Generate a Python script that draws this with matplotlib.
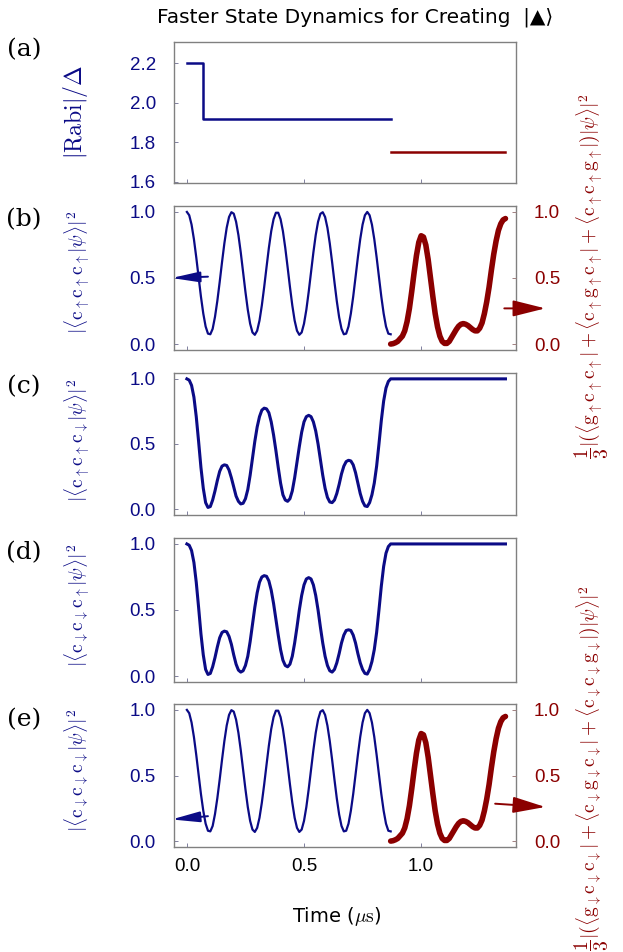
import numpy as np
import matplotlib
matplotlib.use("Agg")
import matplotlib.pyplot as plt

plt.rcParams['mathtext.fontset'] = 'cm'
plt.rcParams['font.family'] = ['Liberation Sans', 'DejaVu Sans']

NAVY = '#0b0b86'
DARKRED = '#8b0000'
SPINE = '#808080'

# ---------------- data ----------------
# panel (a): |Rabi|/Delta step profile
rabi_t_blue = [0.0, 0.07, 0.87]
rabi_blue = [2.2, 1.92, 1.92]
rabi_t_red = [0.87, 1.36]
rabi_red = [1.75, 1.75]

# sample times of the first stage (0 .. 0.87 us)
t_stage1 = np.round(np.arange(0, 88) * 0.01, 2)
# sample times of the second stage (0.87 .. 1.36 us)
t_stage2 = np.round(0.87 + np.arange(0, 50) * 0.01, 2)

# panel (b): |<c_up c_up c_up|psi>|^2
pop_uuu = [1.000, 0.975, 0.904, 0.794, 0.657, 0.507, 0.359, 0.231, 0.133, 0.079,
           0.074, 0.115, 0.206, 0.327, 0.469, 0.620, 0.762, 0.881, 0.962, 0.998,
           0.987, 0.926, 0.825, 0.693, 0.544, 0.395, 0.260, 0.154, 0.088, 0.070,
           0.101, 0.178, 0.293, 0.432, 0.582, 0.728, 0.854, 0.945, 0.994, 0.994,
           0.945, 0.854, 0.728, 0.582, 0.432, 0.293, 0.178, 0.101, 0.070, 0.088,
           0.154, 0.260, 0.395, 0.544, 0.693, 0.825, 0.926, 0.986, 0.998, 0.962,
           0.880, 0.762, 0.620, 0.469, 0.325, 0.203, 0.116, 0.074, 0.079, 0.133,
           0.231, 0.359, 0.507, 0.657, 0.794, 0.904, 0.975, 1.000, 0.975, 0.904,
           0.794, 0.657, 0.507, 0.359, 0.231, 0.133, 0.079, 0.074]
# right axis of (b): 1/3 |(<g c c| + <c g c| + <c c g|)|psi>|^2
pop_g_up = [0.00, 0.003, 0.01, 0.02, 0.04, 0.06, 0.10, 0.17, 0.27, 0.40,
            0.54, 0.67, 0.77, 0.82, 0.81, 0.75, 0.64, 0.50, 0.36, 0.23,
            0.13, 0.06, 0.02, 0.005, 0.005, 0.02, 0.05, 0.08, 0.11, 0.135,
            0.15, 0.155, 0.15, 0.14, 0.125, 0.11, 0.10, 0.10, 0.12, 0.16,
            0.23, 0.32, 0.43, 0.56, 0.68, 0.78, 0.86, 0.91, 0.94, 0.95]

# panel (c): |<c_up c_up c_down|psi>|^2 (stays at 1 after 0.87)
pop_uud = [1.00, 0.99, 0.95, 0.86, 0.71, 0.52, 0.32, 0.16, 0.05, 0.013,
           0.02, 0.07, 0.14, 0.22, 0.29, 0.33, 0.34, 0.335, 0.30, 0.24,
           0.17, 0.10, 0.06, 0.04, 0.045, 0.08, 0.15, 0.26, 0.39, 0.52,
           0.63, 0.71, 0.76, 0.775, 0.77, 0.74, 0.67, 0.57, 0.45, 0.32,
           0.20, 0.11, 0.07, 0.06, 0.08, 0.14, 0.24, 0.36, 0.48, 0.59,
           0.67, 0.71, 0.72, 0.71, 0.67, 0.60, 0.50, 0.38, 0.26, 0.16,
           0.09, 0.055, 0.05, 0.07, 0.12, 0.19, 0.27, 0.33, 0.365, 0.375,
           0.37, 0.34, 0.28, 0.20, 0.12, 0.06, 0.025, 0.02, 0.05, 0.11,
           0.20, 0.33, 0.50, 0.68, 0.83, 0.93, 0.98, 1.00]
# panel (d): |<c_down c_down c_up|psi>|^2
pop_ddu = [1.00, 0.99, 0.95, 0.86, 0.71, 0.52, 0.32, 0.16, 0.05, 0.012,
           0.02, 0.07, 0.14, 0.22, 0.29, 0.33, 0.34, 0.335, 0.30, 0.24,
           0.16, 0.09, 0.045, 0.03, 0.04, 0.08, 0.15, 0.26, 0.39, 0.52,
           0.63, 0.71, 0.75, 0.76, 0.755, 0.72, 0.65, 0.55, 0.43, 0.31,
           0.20, 0.12, 0.08, 0.07, 0.09, 0.15, 0.25, 0.37, 0.50, 0.61,
           0.69, 0.735, 0.745, 0.735, 0.69, 0.61, 0.50, 0.37, 0.25, 0.15,
           0.08, 0.04, 0.03, 0.05, 0.10, 0.17, 0.25, 0.31, 0.345, 0.35,
           0.345, 0.31, 0.25, 0.17, 0.10, 0.05, 0.02, 0.015, 0.05, 0.11,
           0.20, 0.33, 0.50, 0.68, 0.83, 0.93, 0.98, 1.00]
t_end = 1.36
final_value = 1.00

# panel (e): |<c_down c_down c_down|psi>|^2 (same as (b) by eye)
pop_ddd = list(pop_uuu)
pop_g_down = list(pop_g_up)

# arrow anchors (data units): (tail_t, tail_y, head_t, head_y)
arrow_b_left = (0.09, 0.51, -0.065, 0.50)
arrow_b_right = (1.355, 0.27, 1.53, 0.27)
arrow_e_left = (0.09, 0.19, -0.065, 0.165)
arrow_e_right = (1.316, 0.285, 1.53, 0.26)

xticks = [0.0, 0.5, 1.0]
pop_ticks = [0.0, 0.5, 1.0]
rabi_ticks = [1.6, 1.8, 2.0, 2.2]

# ---------------- figure ----------------
W, H = 623, 952
fig = plt.figure(figsize=(W / 100, H / 100), dpi=100)

def add_axes(top_px, bot_px, left_px=174, right_px=516):
    return fig.add_axes([left_px / W, 1 - bot_px / H,
                         (right_px - left_px) / W, (bot_px - top_px) / H])

XLIM = (-0.055, 1.405)
POPLIM = (-0.045, 1.045)

def style(ax, labelcolor=NAVY, show_x=False):
    for sp in ax.spines.values():
        sp.set_color(SPINE)
        sp.set_linewidth(1.0)
    ax.set_xlim(*XLIM)
    ax.set_xticks(xticks)
    ax.tick_params(axis='both', direction='in', length=3, width=0.7,
                   color='#8080a0', labelsize=13.5)
    ax.tick_params(axis='y', labelcolor=labelcolor, pad=13)
    ax.tick_params(axis='x', pad=8, labelbottom=show_x, labelcolor='black')
    ax.yaxis.set_major_formatter(matplotlib.ticker.FormatStrFormatter('%.1f'))
    ax.xaxis.set_major_formatter(matplotlib.ticker.FormatStrFormatter('%.1f'))

def style_right(ax2):
    ax2.set_ylim(*POPLIM)
    ax2.set_yticks(pop_ticks)
    ax2.tick_params(axis='y', direction='in', length=3, width=0.7,
                    color='#a08080', labelcolor=DARKRED, labelsize=13.5, pad=13)
    ax2.yaxis.set_major_formatter(matplotlib.ticker.FormatStrFormatter('%.1f'))
    for sp in ax2.spines.values():
        sp.set_visible(False)

def arrow(ax, spec, color, hl=1.0, hw=0.22):
    tx, ty, hx, hy = spec
    ax.annotate('', xy=(hx, hy), xytext=(tx, ty), xycoords='data',
                annotation_clip=False,
                arrowprops=dict(arrowstyle='-|>,head_length=%g,head_width=%g' % (hl, hw),
                                mutation_scale=20, color=color, lw=1.4,
                                shrinkA=0, shrinkB=0))

# (a)
ax_a = add_axes(42, 183)
ax_a.step(rabi_t_blue, rabi_blue, where='post', color=NAVY, lw=1.8)
ax_a.plot(rabi_t_red, rabi_red, color=DARKRED, lw=1.8)
style(ax_a)
ax_a.set_ylim(1.593, 2.308)
ax_a.set_yticks(rabi_ticks)

# (b)
ax_b = add_axes(206, 350)
ax_b.plot(t_stage1, pop_uuu, color=NAVY, lw=1.6)
style(ax_b)
ax_b.set_ylim(*POPLIM)
ax_b.set_yticks(pop_ticks)
ax_b2 = ax_b.twinx()
ax_b2.plot(t_stage2, pop_g_up, color=DARKRED, lw=4, solid_capstyle='round')
style_right(ax_b2)
ax_b2.set_xlim(*XLIM)
arrow(ax_b, arrow_b_left, NAVY, 0.85, 0.16)
arrow(ax_b2, arrow_b_right, DARKRED, 1.0, 0.25)

# (c)
ax_c = add_axes(373, 515)
ax_c.plot(list(t_stage1) + [t_end], pop_uud + [final_value], color=NAVY, lw=2.2)
style(ax_c)
ax_c.set_ylim(*POPLIM)
ax_c.set_yticks(pop_ticks)

# (d)
ax_d = add_axes(538, 682)
ax_d.plot(list(t_stage1) + [t_end], pop_ddu + [final_value], color=NAVY, lw=2.2)
style(ax_d)
ax_d.set_ylim(*POPLIM)
ax_d.set_yticks(pop_ticks)

# (e)
ax_e = add_axes(704, 847)
ax_e.plot(t_stage1, pop_ddd, color=NAVY, lw=1.6)
style(ax_e, show_x=True)
ax_e.set_ylim(*POPLIM)
ax_e.set_yticks(pop_ticks)
ax_e2 = ax_e.twinx()
ax_e2.plot(t_stage2, pop_g_down, color=DARKRED, lw=4, solid_capstyle='round')
style_right(ax_e2)
ax_e2.set_xlim(*XLIM)
arrow(ax_e, arrow_e_left, NAVY, 0.85, 0.16)
arrow(ax_e2, arrow_e_right, DARKRED, 1.0, 0.25)

# ---------------- texts ----------------
def fx(px):
    return px / W

def fy(py):
    return 1 - py / H

fig.text(fx(355), fy(17), 'Faster State Dynamics for Creating  |▲⟩',
         ha='center', va='center', fontsize=14.5, family='DejaVu Sans')

for lab, py in [('(a)', 50), ('(b)', 220), ('(c)', 387), ('(d)', 553), ('(e)', 720)]:
    fig.text(fx(24), fy(py), lab, ha='center', va='center', fontsize=18,
             family='DejaVu Serif')

fig.text(fx(76), fy(112), r'$|\mathrm{Rabi}|/\Delta$', rotation=90,
         ha='center', va='center', fontsize=17, color=NAVY)

left_labels = [
    (272, r'$|\langle \mathrm{c}_{\uparrow}\mathrm{c}_{\uparrow}\mathrm{c}_{\uparrow}|\psi\rangle|^2$'),
    (440, r'$|\langle \mathrm{c}_{\uparrow}\mathrm{c}_{\uparrow}\mathrm{c}_{\downarrow}|\psi\rangle|^2$'),
    (605, r'$|\langle \mathrm{c}_{\downarrow}\mathrm{c}_{\downarrow}\mathrm{c}_{\uparrow}|\psi\rangle|^2$'),
    (770, r'$|\langle \mathrm{c}_{\downarrow}\mathrm{c}_{\downarrow}\mathrm{c}_{\downarrow}|\psi\rangle|^2$'),
]
for py, txt in left_labels:
    fig.text(fx(77), fy(py), txt, rotation=90, ha='center', va='center',
             fontsize=14, color=NAVY)

right_b = (r'$\dfrac{1}{3}|(\langle \mathrm{g}_{\uparrow}\mathrm{c}_{\uparrow}\mathrm{c}_{\uparrow}|'
           r' + \langle \mathrm{c}_{\uparrow}\mathrm{g}_{\uparrow}\mathrm{c}_{\uparrow}|'
           r' + \langle \mathrm{c}_{\uparrow}\mathrm{c}_{\uparrow}\mathrm{g}_{\uparrow}|)|\psi\rangle|^2$')
right_e = (r'$\dfrac{1}{3}|(\langle \mathrm{g}_{\downarrow}\mathrm{c}_{\downarrow}\mathrm{c}_{\downarrow}|'
           r' + \langle \mathrm{c}_{\downarrow}\mathrm{g}_{\downarrow}\mathrm{c}_{\downarrow}|'
           r' + \langle \mathrm{c}_{\downarrow}\mathrm{c}_{\downarrow}\mathrm{g}_{\downarrow}|)|\psi\rangle|^2$')
fig.text(fx(592), fy(276), right_b, rotation=90, ha='center', va='center',
         fontsize=14, color=DARKRED)
fig.text(fx(592), fy(768), right_e, rotation=90, ha='center', va='center',
         fontsize=14, color=DARKRED)

fig.text(fx(337), fy(917), r'Time ($\mu\mathrm{s}$)', ha='center', va='center',
         fontsize=14, family='DejaVu Sans')

fig.savefig('out.png', dpi=100)
